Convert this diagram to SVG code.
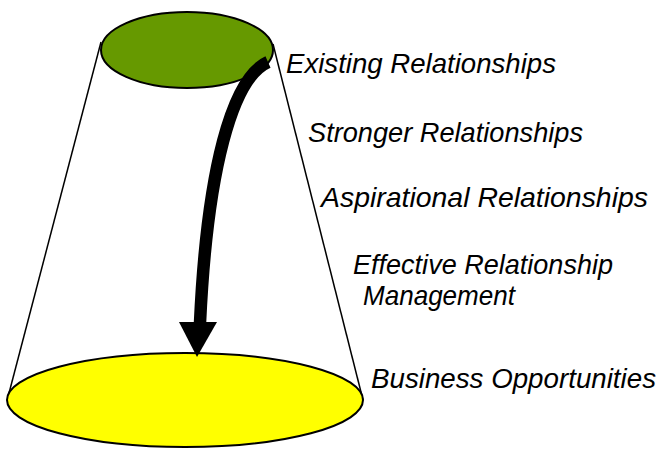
<svg xmlns="http://www.w3.org/2000/svg" width="663" height="452" viewBox="0 0 663 452">
  <style>
    .label { font-family: "Liberation Sans", Arial, Helvetica, sans-serif; font-style: italic; font-size: 27.5px; fill: #000; }
    .edge { stroke: #000; stroke-width: 1.5; fill: none; }
    .rim { stroke: #000; stroke-width: 2; }
  </style>

  <!-- cone sides -->
  <g id="cone">
    <line class="edge" x1="101" y1="42" x2="8" y2="397"/>
    <line class="edge" x1="273" y1="44" x2="363" y2="400"/>
  </g>

  <!-- top of the funnel -->
  <g id="top">
    <ellipse class="rim" cx="187" cy="50" rx="86" ry="38" fill="#669900"/>
  </g>

  <!-- base of the funnel -->
  <g id="base">
    <ellipse class="rim" cx="185" cy="400" rx="178" ry="47" fill="#FFFF00"/>
  </g>

  <!-- curved arrow from top to base -->
  <g id="connectors">
    <path d="M268,62 C232,78 207,170 200,323" stroke="#000" stroke-width="12.5" fill="none"/>
    <polygon points="179,322 217,322 197,357" fill="#000"/>
  </g>

  <!-- stage labels -->
  <g id="label-existing">
    <text class="label" x="286" y="73" textLength="270" lengthAdjust="spacingAndGlyphs">Existing Relationships</text>
  </g>
  <g id="label-stronger">
    <text class="label" x="308" y="142" textLength="275" lengthAdjust="spacingAndGlyphs">Stronger Relationships</text>
  </g>
  <g id="label-aspirational">
    <text class="label" x="321" y="207" textLength="327" lengthAdjust="spacingAndGlyphs">Aspirational Relationships</text>
  </g>
  <g id="label-effective">
    <text class="label" x="353" y="274" textLength="260" lengthAdjust="spacingAndGlyphs">Effective Relationship</text>
    <text class="label" x="363" y="305" textLength="152" lengthAdjust="spacingAndGlyphs">Management</text>
  </g>
  <g id="label-business">
    <text class="label" x="371" y="388" textLength="285" lengthAdjust="spacingAndGlyphs">Business Opportunities</text>
  </g>
</svg>
